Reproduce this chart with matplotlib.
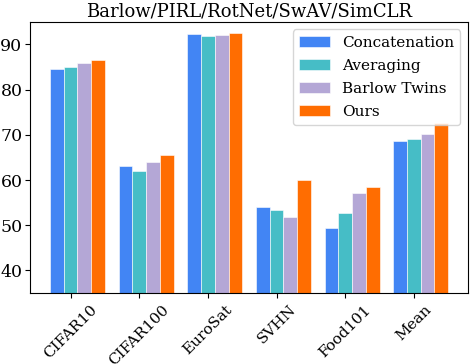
import numpy as np
import matplotlib
matplotlib.use("Agg")
import matplotlib.pyplot as plt

plt.rcParams.update({"font.family": "DejaVu Serif", "font.size": 11})

datasets = ["CIFAR10", "CIFAR100", "EuroSat", "SVHN", "Food101", "Mean"]
methods = ["Concatenation", "Averaging", "Barlow Twins", "Ours"]
concat = [84.6, 63.2, 92.3, 54.0, 49.4, 68.7]
averaging = [84.9, 62.1, 91.9, 53.4, 52.8, 69.0]
barlow = [85.9, 63.9, 92.1, 51.8, 57.2, 70.2]
ours = [86.6, 65.6, 92.5, 60.0, 58.5, 72.6]
colors = ["#4285F4", "#46BDC6", "#B4A7D6", "#FF6D01"]

fig = plt.figure(figsize=(4.7, 3.64), dpi=100)
ax = fig.add_axes([0.064, 0.195, 0.932, 0.745])

x = np.arange(len(datasets))
w = 0.2
for i, (vals, name) in enumerate(zip([concat, averaging, barlow, ours], methods)):
    ax.bar(x - 0.2 + i * w, vals, w, color=colors[i], label=name,
           edgecolor="white", linewidth=0.4)

ax.set_ylim(35, 95)
ax.set_yticks([40, 50, 60, 70, 80, 90])
ax.tick_params(axis="y", labelsize=12.5, pad=2)
ax.set_xticks(x)
ax.set_xticklabels(datasets, rotation=45)
ax.set_title("Barlow/PIRL/RotNet/SwAV/SimCLR", fontsize=13, pad=4)
ax.legend(loc="upper right", fontsize=11, labelspacing=0.6)

fig.savefig("out.png", dpi=100)
